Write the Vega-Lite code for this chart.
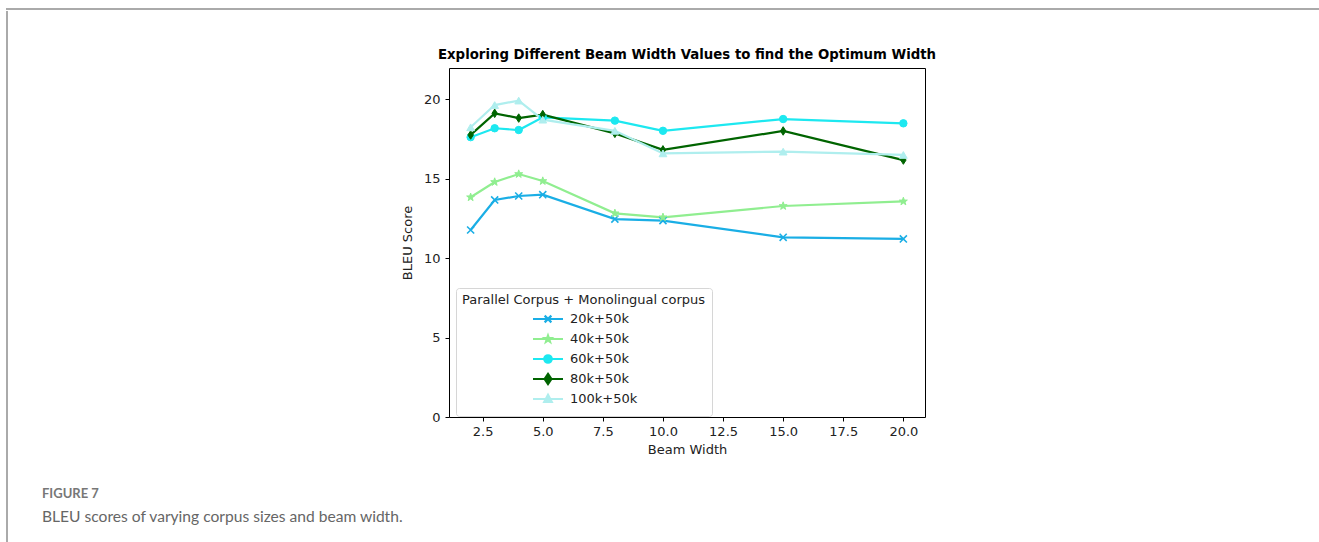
{
  "$schema": "https://vega.github.io/schema/vega-lite/v6.json",
  "padding": {"left": 6, "top": 8, "right": 0, "bottom": 0},
  "background": "white",
  "config": {
    "font": "DejaVu Sans",
    "concat": {"spacing": 0}
  },
  "spacing": 0,
  "vconcat": [
    {
      "width": 1313,
      "height": 0.001,
      "view": {"stroke": "#aaaaaa", "strokeWidth": 2},
      "data": {"values": []},
      "mark": "rule",
      "encoding": {}
    },
    {
      "spacing": 391,
      "title": {
        "text": "FIGURE 7",
        "subtitle": "BLEU scores of varying corpus sizes and beam width.",
        "orient": "bottom",
        "anchor": "start",
        "frame": "bounds",
        "offset": -59,
        "dx": 36,
        "font": "Lato",
        "fontSize": 13,
        "fontWeight": "bold",
        "color": "#777777",
        "subtitleFont": "Lato",
        "subtitleFontSize": 15.6,
        "subtitleColor": "#666666",
        "subtitlePadding": 9
      },
      "hconcat": [
        {
          "width": 0.001,
          "height": 534,
          "view": {"stroke": "#aaaaaa", "strokeWidth": 2},
          "data": {"values": []},
          "mark": "rule",
          "encoding": {}
        },
        {
          "spacing": 34,
          "vconcat": [
            {
              "width": 0.001,
              "height": 0.001,
              "view": {"stroke": null},
              "data": {"values": []},
              "mark": "rule",
              "encoding": {}
            },
            {
              "width": 476,
              "height": 349,
              "view": {"stroke": "black", "strokeWidth": 1},
              "title": {
                "text": "Exploring Different Beam Width Values to find the Optimum Width",
                "font": "DejaVu Sans",
                "fontSize": 13.3,
                "fontWeight": "bold",
                "color": "black",
                "offset": 7
              },
              "data": {
                "values": [
                  {"series": "20k+50k", "beam": 2, "bleu": 11.76},
                  {"series": "20k+50k", "beam": 3, "bleu": 13.65},
                  {"series": "20k+50k", "beam": 4, "bleu": 13.9},
                  {"series": "20k+50k", "beam": 5, "bleu": 13.98},
                  {"series": "20k+50k", "beam": 8, "bleu": 12.45},
                  {"series": "20k+50k", "beam": 10, "bleu": 12.35},
                  {"series": "20k+50k", "beam": 15, "bleu": 11.3},
                  {"series": "20k+50k", "beam": 20, "bleu": 11.2},
                  {"series": "40k+50k", "beam": 2, "bleu": 13.82},
                  {"series": "40k+50k", "beam": 3, "bleu": 14.78},
                  {"series": "40k+50k", "beam": 4, "bleu": 15.28},
                  {"series": "40k+50k", "beam": 5, "bleu": 14.84},
                  {"series": "40k+50k", "beam": 8, "bleu": 12.81},
                  {"series": "40k+50k", "beam": 10, "bleu": 12.56},
                  {"series": "40k+50k", "beam": 15, "bleu": 13.27},
                  {"series": "40k+50k", "beam": 20, "bleu": 13.56},
                  {"series": "60k+50k", "beam": 2, "bleu": 17.6},
                  {"series": "60k+50k", "beam": 3, "bleu": 18.16},
                  {"series": "60k+50k", "beam": 4, "bleu": 18.05},
                  {"series": "60k+50k", "beam": 5, "bleu": 18.85},
                  {"series": "60k+50k", "beam": 8, "bleu": 18.64},
                  {"series": "60k+50k", "beam": 10, "bleu": 18.0},
                  {"series": "60k+50k", "beam": 15, "bleu": 18.74},
                  {"series": "60k+50k", "beam": 20, "bleu": 18.47},
                  {"series": "80k+50k", "beam": 2, "bleu": 17.74},
                  {"series": "80k+50k", "beam": 3, "bleu": 19.1},
                  {"series": "80k+50k", "beam": 4, "bleu": 18.8},
                  {"series": "80k+50k", "beam": 5, "bleu": 19.02},
                  {"series": "80k+50k", "beam": 8, "bleu": 17.84},
                  {"series": "80k+50k", "beam": 10, "bleu": 16.8},
                  {"series": "80k+50k", "beam": 15, "bleu": 17.99},
                  {"series": "80k+50k", "beam": 20, "bleu": 16.16},
                  {"series": "100k+50k", "beam": 2, "bleu": 18.22},
                  {"series": "100k+50k", "beam": 3, "bleu": 19.62},
                  {"series": "100k+50k", "beam": 4, "bleu": 19.9},
                  {"series": "100k+50k", "beam": 5, "bleu": 18.7},
                  {"series": "100k+50k", "beam": 8, "bleu": 18.0},
                  {"series": "100k+50k", "beam": 10, "bleu": 16.58},
                  {"series": "100k+50k", "beam": 15, "bleu": 16.69},
                  {"series": "100k+50k", "beam": 20, "bleu": 16.48}
                ]
              },
              "encoding": {
                "x": {
                  "field": "beam",
                  "type": "quantitative",
                  "scale": {"domain": [1.1, 20.9], "nice": false, "zero": false},
                  "axis": {
                    "title": "Beam Width",
                    "values": [2.5, 5, 7.5, 10, 12.5, 15, 17.5, 20],
                    "format": ".1f",
                    "grid": false,
                    "domain": false,
                    "tickColor": "black",
                    "tickSize": 4,
                    "labelFont": "DejaVu Sans",
                    "labelFontSize": 13,
                    "labelColor": "#222222",
                    "labelPadding": 4,
                    "labelFlush": false,
                    "titleFont": "DejaVu Sans",
                    "titleFontSize": 13,
                    "titleFontWeight": "normal",
                    "titleColor": "#222222",
                    "titlePadding": 5
                  }
                },
                "y": {
                  "field": "bleu",
                  "type": "quantitative",
                  "scale": {"domain": [0, 21.95], "nice": false, "zero": false},
                  "axis": {
                    "title": "BLEU Score",
                    "values": [0, 5, 10, 15, 20],
                    "format": "d",
                    "grid": false,
                    "domain": false,
                    "tickColor": "black",
                    "tickSize": 4,
                    "labelFont": "DejaVu Sans",
                    "labelFontSize": 13,
                    "labelColor": "#222222",
                    "labelPadding": 5,
                    "labelFlush": false,
                    "titleFont": "DejaVu Sans",
                    "titleFontSize": 13,
                    "titleFontWeight": "normal",
                    "titleColor": "#222222",
                    "titlePadding": 9
                  }
                }
              },
              "layer": [
                {
                  "mark": {"type": "line", "strokeWidth": 2.2},
                  "encoding": {
                    "color": {
                      "field": "series",
                      "type": "nominal",
                      "sort": ["20k+50k", "40k+50k", "60k+50k", "80k+50k", "100k+50k"],
                      "scale": {
                        "domain": ["20k+50k", "40k+50k", "60k+50k", "80k+50k", "100k+50k"],
                        "range": ["#1aaee5", "#90ee90", "#1de8f0", "#006400", "#afeeee"]
                      },
                      "legend": {
                        "title": "Parallel Corpus + Monolingual corpus",
                        "orient": "none",
                        "legendX": 449,
                        "legendY": 279,
                        "padding": 6,
                        "fillColor": "rgba(255,255,255,0.8)",
                        "strokeColor": "#d6d6d6",
                        "cornerRadius": 3,
                        "titleFont": "DejaVu Sans",
                        "titleFontSize": 13,
                        "titleFontWeight": "normal",
                        "titleColor": "#222222",
                        "titlePadding": 3,
                        "titleLimit": 400,
                        "labelFont": "DejaVu Sans",
                        "labelFontSize": 13,
                        "labelColor": "#222222",
                        "labelOffset": 13,
                        "symbolOffset": 77,
                        "symbolSize": 225,
                        "symbolStrokeWidth": 2.2,
                        "rowPadding": -4,
                        "encode": {
                          "symbols": {
                            "update": {
                              "fill": {"scale": "color", "field": "value"},
                              "shape": {
                                "signal": "datum.value === '20k+50k' ? 'M0,-0.75M0,0.75M-2,0H2M-0.45,-0.45L0.45,0.45M-0.45,0.45L0.45,-0.45' : datum.value === '40k+50k' ? 'M0,-0.75M0,0.75M-2,0H2M0,-0.45L0.106,-0.146L0.428,-0.139L0.171,0.056L0.265,0.364L0,0.18L-0.265,0.364L-0.171,0.056L-0.428,-0.139L-0.106,-0.146Z' : datum.value === '60k+50k' ? 'M0,-0.75M0,0.75M-2,0H2M-0.5,0A0.5,0.5 0 1,0 0.5,0A0.5,0.5 0 1,0 -0.5,0Z' : datum.value === '80k+50k' ? 'M0,-0.75M0,0.75M-2,0H2M0,-0.67L0.45,0L0,0.67L-0.45,0Z' : 'M0,-0.75M0,0.75M-2,0H2M0,-0.55L0.5,0.38L-0.5,0.38Z'"
                              }
                            }
                          }
                        }
                      }
                    }
                  }
                },
                {
                  "transform": [{"filter": {"field": "series", "equal": "20k+50k"}}],
                  "mark": {"type": "point", "shape": "M-1,-1L1,1M-1,1L1,-1", "filled": true, "fill": "#1aaee5", "stroke": "#1aaee5", "size": 50, "strokeWidth": 1.6, "opacity": 1}
                },
                {
                  "transform": [{"filter": {"field": "series", "equal": "40k+50k"}}],
                  "mark": {"type": "point", "shape": "M0,-1L0.235,-0.324L0.951,-0.309L0.38,0.124L0.588,0.809L0,0.4L-0.588,0.809L-0.38,0.124L-0.951,-0.309L-0.235,-0.324Z", "filled": true, "fill": "#90ee90", "stroke": "#90ee90", "size": 70, "strokeWidth": 1, "opacity": 1}
                },
                {
                  "transform": [{"filter": {"field": "series", "equal": "60k+50k"}}],
                  "mark": {"type": "point", "shape": "circle", "filled": true, "fill": "#1de8f0", "stroke": "#1de8f0", "size": 55, "strokeWidth": 1, "opacity": 1}
                },
                {
                  "transform": [{"filter": {"field": "series", "equal": "80k+50k"}}],
                  "mark": {"type": "point", "shape": "M0,-1.1L0.7,0L0,1.1L-0.7,0Z", "filled": true, "fill": "#006400", "stroke": "#006400", "size": 60, "strokeWidth": 1, "opacity": 1}
                },
                {
                  "transform": [{"filter": {"field": "series", "equal": "100k+50k"}}],
                  "mark": {"type": "point", "shape": "triangle-up", "filled": true, "fill": "#afeeee", "stroke": "#afeeee", "size": 60, "strokeWidth": 1, "opacity": 1}
                }
              ]
            }
          ]
        }
      ]
    }
  ]
}
